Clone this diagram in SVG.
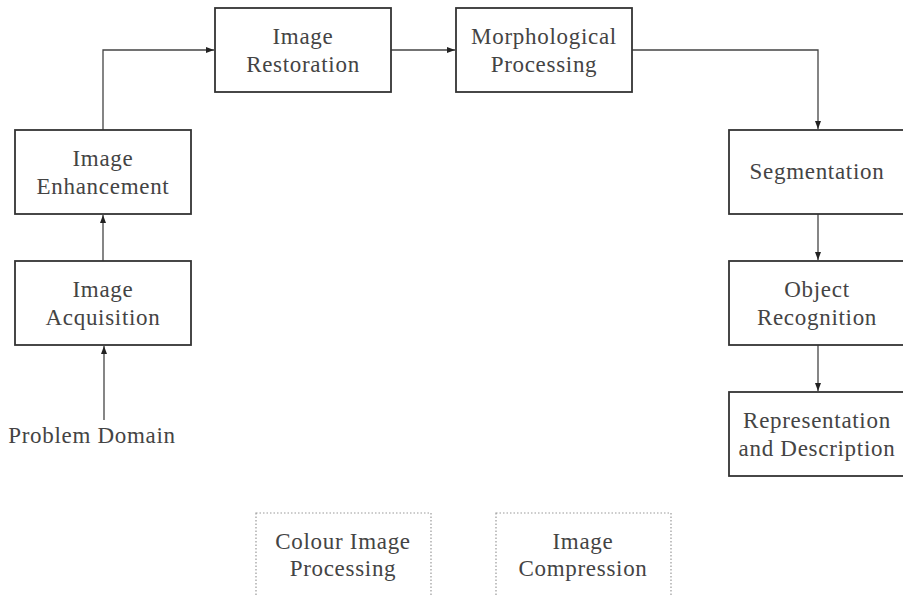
<svg xmlns="http://www.w3.org/2000/svg" width="903" height="596" viewBox="0 0 903 596">
<defs>
<marker id="ah" markerWidth="8" markerHeight="6" refX="8" refY="3" orient="auto" markerUnits="userSpaceOnUse">
<path d="M0,0 L8,3 L0,6 Z" fill="#222"/>
</marker>
<style>
.box{fill:#fff;stroke:#333;stroke-width:1.8}
.dot{fill:#fff;stroke:#999;stroke-width:1.2;stroke-dasharray:1.5 2}
.t{font-family:"Liberation Serif","DejaVu Serif",serif;font-size:23px;letter-spacing:0.7px;fill:#444;text-anchor:middle}
.c{fill:none;stroke:#444;stroke-width:1.3;marker-end:url(#ah)}
</style>
</defs>
<rect width="903" height="596" fill="#fff"/>
<g id="connectors">
<path class="c" d="M103,130 V50 H214"/>
<path class="c" d="M391,50 H455"/>
<path class="c" d="M632,50 H818 V129"/>
<path class="c" d="M818,214 V260"/>
<path class="c" d="M818,345 V391"/>
<path class="c" d="M103,261 V215"/>
<path class="c" d="M104,420 V346"/>
</g>
<g id="restoration"><rect class="box" x="215" y="8" width="176" height="84"/><text class="t" x="303" y="44">Image</text><text class="t" x="303" y="72">Restoration</text></g>
<g id="morphological"><rect class="box" x="456" y="8" width="176" height="84"/><text class="t" x="544" y="44">Morphological</text><text class="t" x="544" y="72">Processing</text></g>
<g id="enhancement"><rect class="box" x="15" y="130" width="176" height="84"/><text class="t" x="103" y="166">Image</text><text class="t" x="103" y="194">Enhancement</text></g>
<g id="segmentation"><rect class="box" x="729" y="130" width="176" height="84"/><text class="t" x="817" y="179">Segmentation</text></g>
<g id="acquisition"><rect class="box" x="15" y="261" width="176" height="84"/><text class="t" x="103" y="297">Image</text><text class="t" x="103" y="325">Acquisition</text></g>
<g id="recognition"><rect class="box" x="729" y="261" width="176" height="84"/><text class="t" x="817" y="297">Object</text><text class="t" x="817" y="325">Recognition</text></g>
<g id="representation"><rect class="box" x="729" y="392" width="176" height="84"/><text class="t" x="817" y="428">Representation</text><text class="t" x="817" y="456">and Description</text></g>
<g id="problem"><text class="t" x="92" y="443">Problem Domain</text></g>
<g id="colour"><rect class="dot" x="256" y="513" width="175" height="90"/><text class="t" x="343" y="549">Colour Image</text><text class="t" x="343" y="576">Processing</text></g>
<g id="compression"><rect class="dot" x="496" y="513" width="175" height="90"/><text class="t" x="583" y="549">Image</text><text class="t" x="583" y="576">Compression</text></g>
</svg>
